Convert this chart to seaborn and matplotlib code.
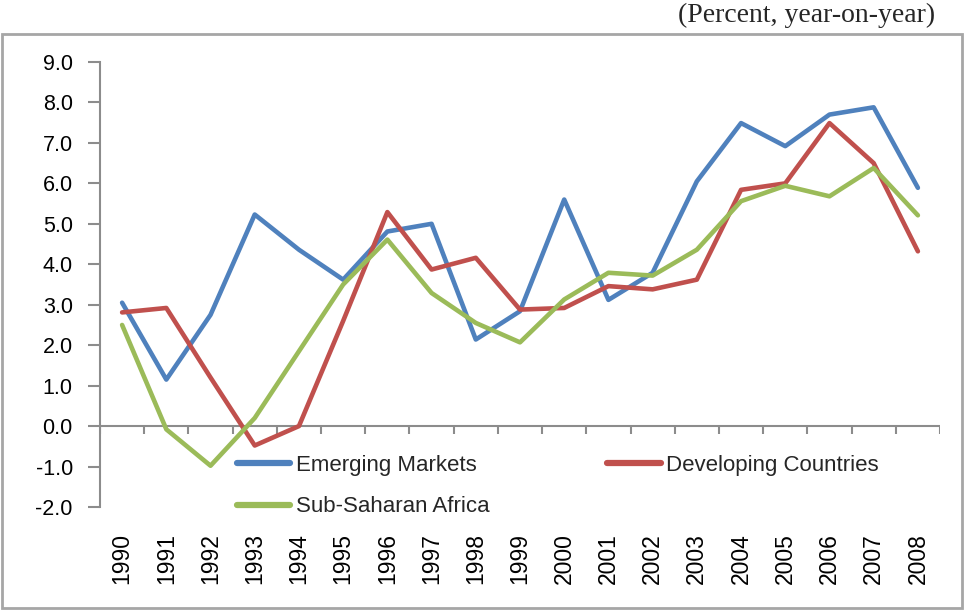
import matplotlib
matplotlib.use("Agg")
import matplotlib.pyplot as plt
import seaborn as sns
import pandas as pd
from matplotlib.patches import Rectangle

years = [str(y) for y in range(1990, 2009)]
emerging = [3.05, 1.15, 2.75, 5.23, 4.36, 3.62, 4.81, 5.0, 2.14, 2.84, 5.6, 3.12, 3.79,
            6.05, 7.49, 6.92, 7.7, 7.88, 5.89]
developing = [2.81, 2.92, 1.2, -0.48, 0.0, 2.6, 5.29, 3.87, 4.16, 2.88, 2.92, 3.46, 3.38,
              3.62, 5.84, 6.0, 7.49, 6.5, 4.32]
ssa = [2.5, -0.08, -0.98, 0.2, 1.85, 3.5, 4.61, 3.29, 2.55, 2.07, 3.13, 3.79, 3.72,
       4.36, 5.56, 5.94, 5.68, 6.38, 5.21]
series_names = ["Emerging Markets", "Developing Countries", "Sub-Saharan Africa"]
colors = ["#4F81BD", "#C0504D", "#9BBB59"]
yticks = [-2.0, -1.0, 0.0, 1.0, 2.0, 3.0, 4.0, 5.0, 6.0, 7.0, 8.0, 9.0]

df = pd.DataFrame({"year": years * 3,
                   "value": emerging + developing + ssa,
                   "series": [series_names[0]] * 19 + [series_names[1]] * 19 + [series_names[2]] * 19})
df["idx"] = list(range(19)) * 3

sns.set_style("white")
plt.rcParams["font.family"] = ["Liberation Sans", "DejaVu Sans"]

fig = plt.figure(figsize=(9.64, 6.10), dpi=100)
ax = fig.add_axes([100 / 964, 1 - 507 / 610, (940 - 100) / 964, (507 - 62) / 610])

sns.lineplot(data=df, x="idx", y="value", hue="series", hue_order=series_names,
             palette=colors, linewidth=3.3, ax=ax, legend=True, sort=False)

ax.set_xlim(-0.5, 18.5)
ax.set_ylim(-2.0, 9.0)
ax.set_yticks(yticks)
ax.set_yticklabels([f"{v:.1f}" for v in yticks], fontsize=15.5, color="#000000")
ax.set_xticks(range(19))
ax.set_xticklabels(years, rotation=90, fontsize=16.5, color="#000000")
ax.tick_params(axis="x", length=0, pad=19)
ax.tick_params(axis="y", length=8.6, width=1.5, color="#8C8C8C", direction="out", left=True, pad=11)
ax.set_xlabel("")
ax.set_ylabel("")
for s in ["top", "right", "bottom"]:
    ax.spines[s].set_visible(False)
ax.spines["left"].set_color("#8C8C8C")
ax.spines["left"].set_linewidth(1.5)

# category axis at zero with boundary ticks
ax.axhline(0, color="#8C8C8C", lw=1.5, zorder=1)
ax.vlines([k + 0.5 for k in range(-1, 19)], 0, -0.2, color="#8C8C8C", lw=1.5, zorder=1)

handles, labels = ax.get_legend_handles_labels()
order = [0, 2, 1]
leg = ax.legend([handles[i] for i in order], [labels[i] for i in order], ncol=2,
                loc="upper left", frameon=False,
                bbox_to_anchor=(237 / 964, 1 - 455 / 610), bbox_transform=fig.transFigure,
                borderaxespad=0, borderpad=0,
                fontsize=16, handlelength=2.4, handletextpad=0.25, columnspacing=5.3,
                labelspacing=0.92)
for line in leg.get_lines():
    line.set_linewidth(4.5)

fig.text(935 / 964, 1 - 15 / 610, "(Percent, year-on-year)", ha="right", va="center",
         fontsize=20, family=["Liberation Serif", "DejaVu Serif"])

fig.patches.append(Rectangle((2 / 964, 2 / 610), 960 / 964, (608 - 34) / 610,
                             transform=fig.transFigure, fill=False, edgecolor="#A6A6A6",
                             lw=2, zorder=0))

fig.savefig("out.png", dpi=100)
